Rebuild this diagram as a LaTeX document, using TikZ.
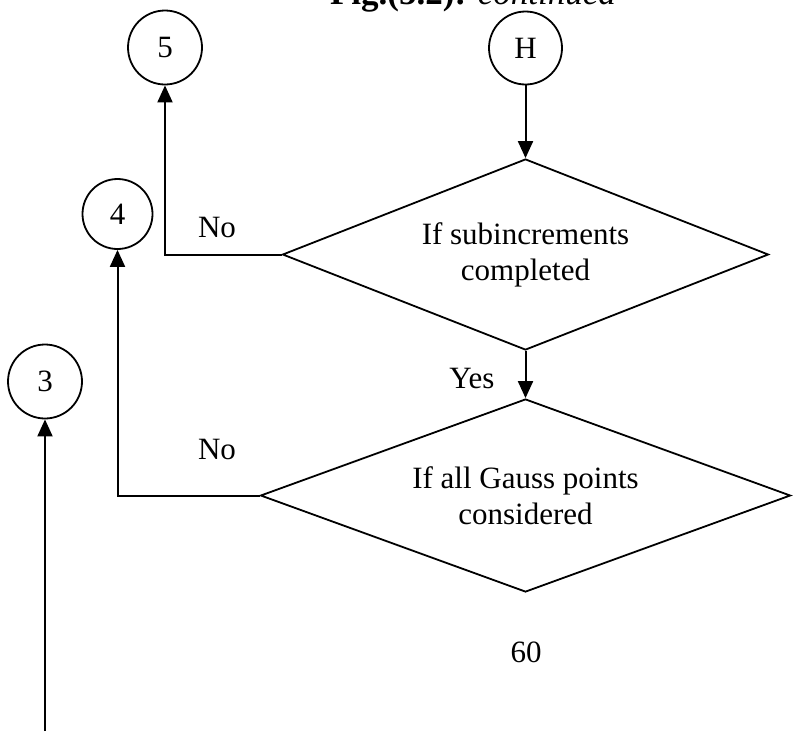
\documentclass[tikz,border=0pt]{standalone}
\usepackage{fontspec}
\setmainfont{Liberation Serif}
\usetikzlibrary{shapes.geometric,arrows.meta}
\begin{document}
\begin{tikzpicture}[x=1pt,y=-1pt,
  every node/.style={font=\fontsize{31}{36}\selectfont},
  conn/.style={circle,draw,line width=1.8pt,inner sep=0pt},
  decision/.style={diamond,draw,line width=1.8pt,inner sep=0pt,align=center},
  flow/.style={line width=2pt,-{Triangle[length=17pt,width=15pt]}}]
\useasboundingbox (0,0) rectangle (797,731);
\clip (0,0) rectangle (797,731);

% page heading, continued from the previous page
\node[anchor=base,font=\fontsize{35}{38}\selectfont] (title) at (473,4)
  {\textbf{Fig.(5.2):} \textit{continued}};

% off-page connectors
\node[conn,minimum size=74pt] (c5) at (165,47.5) {5};
\node[conn,minimum size=73pt] (cH) at (525.5,48) {H};
\node[conn,minimum size=70pt] (c4) at (117.5,214) {4};
\node[conn,minimum size=74pt] (c3) at (45,381.5) {3};

% decisions
\node[decision,shape aspect=2.6,minimum width=486pt,minimum height=191pt]
  (d1) at (525.5,254.5) {If subincrements\\completed};
\node[decision,shape aspect=2.8,minimum width=530pt,minimum height=193pt]
  (d2) at (525.5,495.5) {If all Gauss points\\considered};

% flow lines
\draw[flow] (cH) -- (d1.north);
\draw[flow] (d1.south) -- (d2.north);
\draw[flow] (d1.west) -| (c5.south);
\draw[flow] (d2.west) -| (c4.south);
\coordinate (c3in) at (45,731);
\draw[flow] (c3in) -- (c3.south);

% branch labels
\node (no1) at (217,227) {No};
\node (yes1) at (472,378) {Yes};
\node (no2) at (217,449) {No};

% page number
\node (pg) at (526,652) {60};
\end{tikzpicture}
\end{document}
